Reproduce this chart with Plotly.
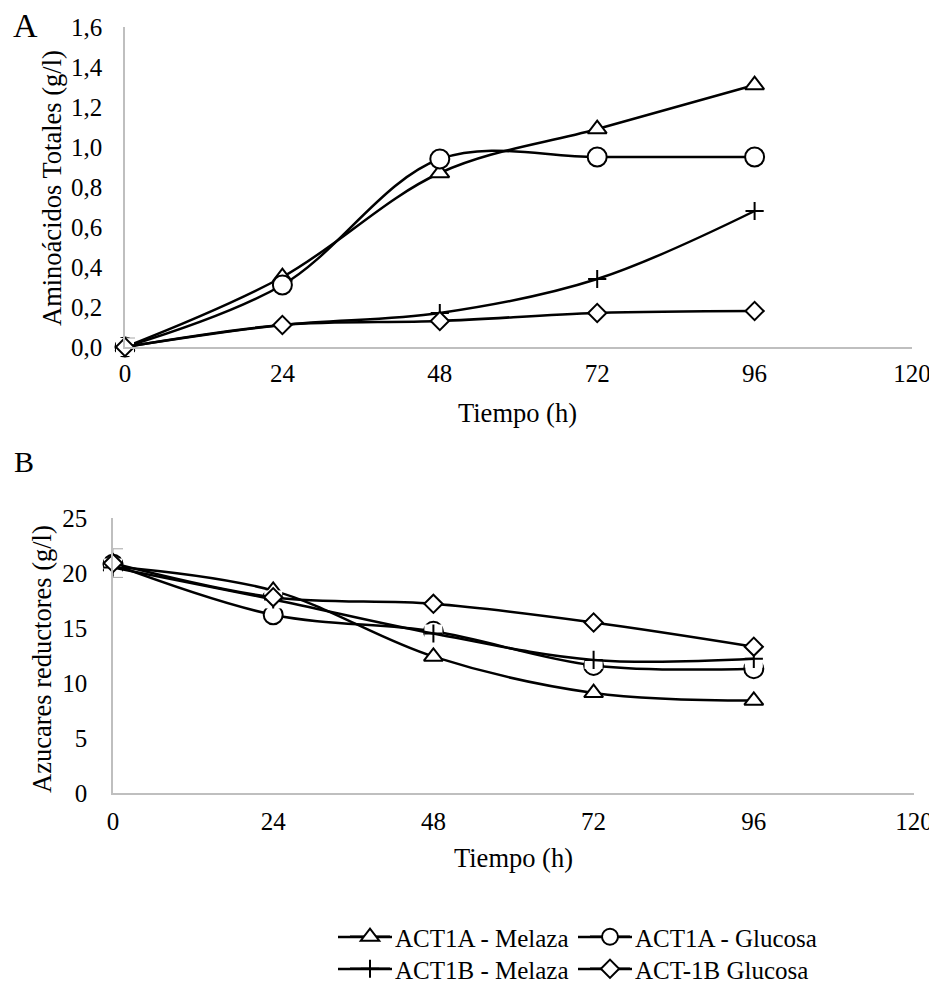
import plotly.graph_objects as go

# ---- data ----
hours = [0, 24, 48, 72, 96]
series_names = ["ACT1A - Melaza", "ACT1A - Glucosa", "ACT1B - Melaza", "ACT-1B Glucosa"]

amino_act1a_melaza = [0.0, 0.35, 0.87, 1.09, 1.31]
amino_act1a_glucosa = [0.0, 0.31, 0.94, 0.95, 0.95]
amino_act1b_melaza = [0.0, 0.11, 0.17, 0.34, 0.68]
amino_act1b_glucosa = [0.0, 0.11, 0.13, 0.17, 0.18]
amino_err_act1b_glucosa = [0.045, 0, 0, 0, 0]

azu_act1a_melaza = [20.6, 18.4, 12.4, 9.1, 8.4]
azu_act1a_glucosa = [20.8, 16.2, 14.7, 11.6, 11.3]
azu_act1b_melaza = [20.5, 17.6, 14.5, 12.1, 12.2]
azu_act1b_glucosa = [20.9, 17.8, 17.2, 15.5, 13.3]
azu_err_act1b_glucosa = [1.3, 0, 0, 0, 0]

x_ticks = [0, 24, 48, 72, 96, 120]

# ---- styling ----
FONT = "Liberation Serif"
FS = 25
FS_T = 26.5
OFF = 8  # page body margin
W, H = 937 - OFF, 990 - 2 * OFF

def px_x(p):
    return (p - OFF) / W

def px_y(p):
    return 1 - (p - OFF) / H

symbols = [
    dict(symbol="triangle-up", size=16.5),
    dict(symbol="circle", size=19),
    dict(symbol="cross-thin", size=13),
    dict(symbol="diamond", size=14),
]

fig = go.Figure()

amino = [amino_act1a_melaza, amino_act1a_glucosa, amino_act1b_melaza, amino_act1b_glucosa]
azu = [azu_act1a_melaza, azu_act1a_glucosa, azu_act1b_melaza, azu_act1b_glucosa]
errs = [amino_err_act1b_glucosa, azu_err_act1b_glucosa]
legends = ["legend", "legend2", "legend3", "legend4"]

for panel, (data, xa, ya) in enumerate([(amino, "x", "y"), (azu, "x2", "y2")]):
    for i, (name, ys) in enumerate(zip(series_names, data)):
        if i == 2:
            # white backing behind the "+" markers (as in the original spreadsheet chart)
            fig.add_trace(go.Scatter(
                x=hours, y=ys, mode="markers", showlegend=False, hoverinfo="skip",
                marker=dict(symbol="square", size=18, color="white", line=dict(width=0)),
                xaxis=xa, yaxis=ya, cliponaxis=False,
            ))
        err = None
        if i == 3:
            err = dict(type="data", array=errs[panel], visible=True,
                       color="#a6a6a6", thickness=1, width=10)
        fig.add_trace(go.Scatter(
            x=hours, y=ys, name=name, mode="lines+markers",
            line=dict(color="black", width=2.5, shape="spline", smoothing=1),
            marker=dict(symbol=symbols[i]["symbol"], size=symbols[i]["size"],
                        color="white", line=dict(color="black", width=2)),
            error_y=err, xaxis=xa, yaxis=ya, cliponaxis=False,
            legend=legends[i], showlegend=(panel == 0),
        ))

axis_common = dict(
    showgrid=False, zeroline=False, showline=True, linecolor="#bfbfbf", linewidth=1.5,
    ticks="outside", tickcolor="rgba(0,0,0,0)", automargin=False,
    ticklabeloverflow="allow",
    tickfont=dict(family=FONT, size=FS, color="black"),
)

fig.update_layout(
    width=W, height=H,
    margin=dict(l=0, r=0, t=0, b=0, autoexpand=False),
    paper_bgcolor="white", plot_bgcolor="white",
    separators=",.",
    font=dict(family=FONT, size=FS, color="black"),
    xaxis=dict(domain=[px_x(125), px_x(912)], range=[0, 120], tickvals=x_ticks,
               anchor="y", ticklen=3, **axis_common),
    yaxis=dict(domain=[px_y(347), px_y(27)], range=[0, 1.6], dtick=0.2, tick0=0,
               tickformat=".1f", anchor="x", ticklen=16, **axis_common),
    xaxis2=dict(domain=[px_x(113), px_x(914)], range=[0, 120], tickvals=x_ticks,
                anchor="y2", ticklen=5, **axis_common),
    yaxis2=dict(domain=[px_y(793), px_y(518)], range=[0, 25], dtick=5, tick0=0,
                anchor="x2", ticklen=19, **axis_common),
)

# legend: two rows, two columns
leg_marker_pos = [(365, 937), (605, 937), (365, 969), (605, 969)]
leg_common = dict(font=dict(family=FONT, size=FS, color="black"), bgcolor="rgba(0,0,0,0)",
                  xanchor="left", yanchor="middle", orientation="h", borderwidth=0,
                  itemwidth=40)
for k, (mx, my) in enumerate(leg_marker_pos):
    fig.update_layout({legends[k]: dict(x=px_x(mx - 20), y=px_y(my), **leg_common)})
    fig.add_shape(type="line", xref="paper", yref="paper",
                  x0=px_x(mx - 27), x1=px_x(mx + 27), y0=px_y(my), y1=px_y(my),
                  line=dict(color="black", width=2.5), layer="below")

ann = [
    dict(text="A", x=px_x(25), y=px_y(25), font=dict(family=FONT, size=34, color="black")),
    dict(text="B", x=px_x(24), y=px_y(461), font=dict(family=FONT, size=30, color="black")),
    dict(text="Aminoácidos Totales (g/l)", x=px_x(52), y=px_y(188), textangle=-90,
         font=dict(family=FONT, size=FS_T, color="black")),
    dict(text="Azucares reductores (g/l)", x=px_x(42), y=px_y(659), textangle=-90,
         font=dict(family=FONT, size=FS_T, color="black")),
    dict(text="Tiempo (h)", x=px_x(517), y=px_y(413),
         font=dict(family=FONT, size=FS_T, color="black")),
    dict(text="Tiempo (h)", x=px_x(513), y=px_y(858),
         font=dict(family=FONT, size=FS_T, color="black")),
]
for a in ann:
    a.update(xref="paper", yref="paper", showarrow=False, xanchor="center", yanchor="middle")
fig.update_layout(annotations=ann)

fig.write_html("out.html")
